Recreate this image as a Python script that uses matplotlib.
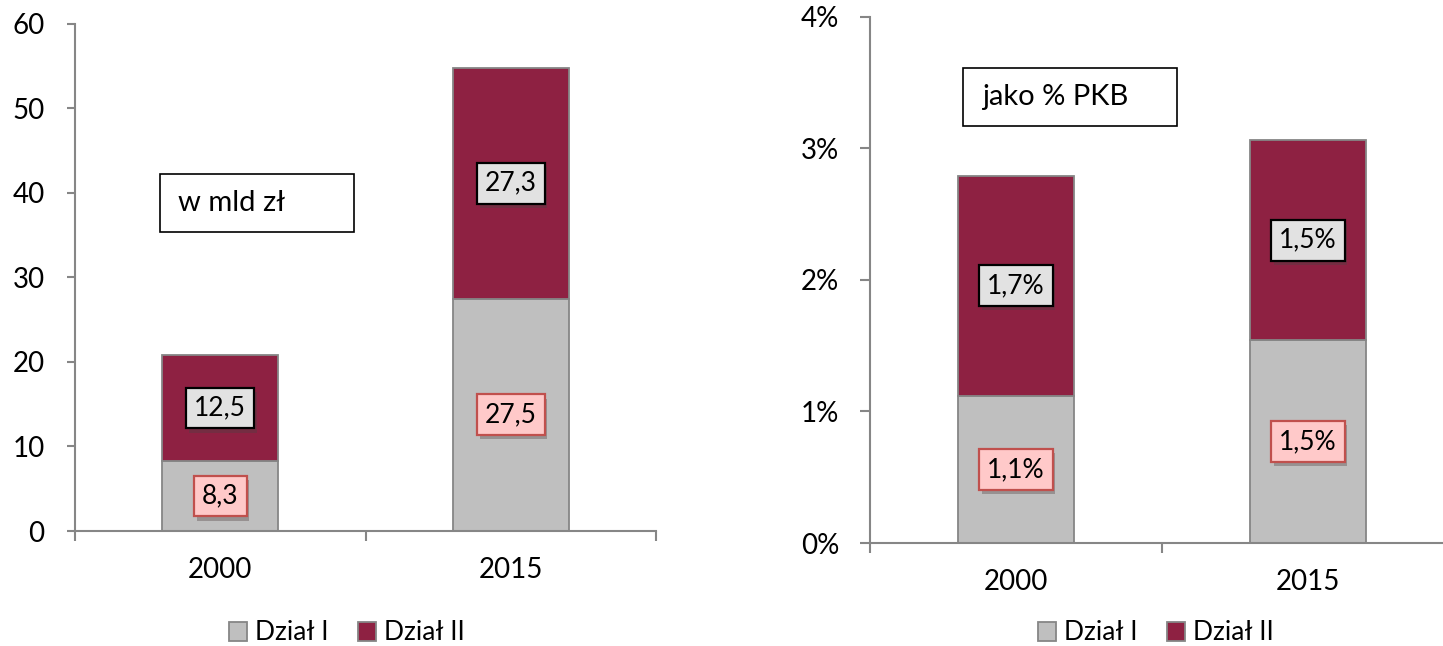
import matplotlib
matplotlib.use("Agg")
import matplotlib.pyplot as plt
import matplotlib.patheffects as pe
from matplotlib.patches import Rectangle, Patch

plt.rcParams['font.family'] = ['Lato', 'DejaVu Sans']

years = ['2000', '2015']
dzial1_mld = [8.3, 27.5]
dzial2_mld = [12.5, 27.3]
dzial1_pkb = [1.12, 1.54]
dzial2_pkb = [1.67, 1.52]

c_gray = '#BFBFBF'
c_red = '#8E2142'
c_line = '#868686'
fs = 20      # tick labels
fs_lab = 19  # data labels
fs_box = 21  # text boxes
fs_leg = 19  # legend


def box_label(ax, x, y, txt, kind):
    if kind == 1:
        bb = dict(boxstyle='square,pad=0.3', fc='#FFC9C9', ec='#C0504D', lw=1.6)
    else:
        bb = dict(boxstyle='square,pad=0.3', fc='#E2E2E2', ec='black', lw=1.6)
    t = ax.text(x, y, txt, ha='center', va='center', fontsize=fs_lab, bbox=bb, zorder=5)
    t.get_bbox_patch().set_path_effects(
        [pe.SimplePatchShadow(offset=(2, -3), alpha=0.35), pe.Normal()])


def draw_panel(ax, d1, d2, fmt, ticks, tickfmt, ylen, ypad):
    x = list(range(len(years)))
    ax.bar(x, d1, width=0.4, color=c_gray, edgecolor=c_line, linewidth=1.3, zorder=2)
    ax.bar(x, d2, width=0.4, bottom=d1, color=c_red, edgecolor=c_line,
           linewidth=1.3, zorder=2)
    for i in x:
        box_label(ax, i, d1[i] / 2, fmt(d1[i]), 1)
        box_label(ax, i, d1[i] + d2[i] / 2, fmt(d2[i]), 2)
    ax.set_xlim(-0.5, 1.5)
    ax.set_ylim(0, ticks[-1])
    ax.set_yticks(ticks)
    ax.set_yticklabels([tickfmt(v) for v in ticks], fontsize=fs)
    ax.set_xticks([-0.5, 0.5, 1.5])
    ax.set_xticklabels([])
    ax.set_xticks(x, minor=True)
    ax.set_xticklabels(years, minor=True, fontsize=fs)
    ax.tick_params(axis='x', which='major', direction='out', length=7,
                   width=1.5, color=c_line)
    ax.tick_params(axis='x', which='minor', length=0, pad=19)
    ax.tick_params(axis='y', direction='out', length=ylen, width=1.5,
                   color=c_line, pad=ypad)
    for s in ['top', 'right']:
        ax.spines[s].set_visible(False)
    for s in ['left', 'bottom']:
        ax.spines[s].set_color(c_line)
        ax.spines[s].set_linewidth(1.5)


fig = plt.figure(figsize=(14.43, 6.46), dpi=100)
ax1 = fig.add_axes([0.052, 0.178, 0.4026, 0.785])
ax2 = fig.add_axes([0.6029, 0.1594, 0.4047, 0.815])

draw_panel(ax1, dzial1_mld, dzial2_mld, lambda v: f'{v:.1f}'.replace('.', ','),
           [0, 10, 20, 30, 40, 50, 60], lambda v: str(v), 6, 16)
draw_panel(ax2, dzial1_pkb, dzial2_pkb, lambda v: f'{v:.1f}'.replace('.', ',') + '%',
           [0, 1, 2, 3, 4], lambda v: f'{v}%', 7, 15)

# text boxes
ax1.add_patch(Rectangle((0.146, 0.590), 0.334, 0.114, transform=ax1.transAxes,
                        fc='white', ec='black', lw=1.2, zorder=6))
ax1.text(0.177, 0.647, 'w mld zł', transform=ax1.transAxes, fontsize=fs_box,
         va='center', ha='left', zorder=7)
ax2.add_patch(Rectangle((0.159, 0.792), 0.367, 0.110, transform=ax2.transAxes,
                        fc='white', ec='black', lw=1.2, zorder=6))
ax2.text(0.192, 0.847, 'jako % PKB', transform=ax2.transAxes, fontsize=fs_box,
         va='center', ha='left', zorder=7)

handles = [Patch(fc=c_gray, ec=c_line, lw=1.3, label='Dział I'),
           Patch(fc=c_red, ec=c_line, lw=1.3, label='Dział II')]
for cx in [347 / 1443, 1156 / 1443]:
    fig.legend(handles=handles, loc='center', bbox_to_anchor=(cx, 1 - 633 / 646),
               ncol=2, frameon=False, fontsize=fs_leg, handlelength=0.7,
               handleheight=0.7, handletextpad=0.3, columnspacing=1.1)

fig.savefig('out.png', dpi=100)
